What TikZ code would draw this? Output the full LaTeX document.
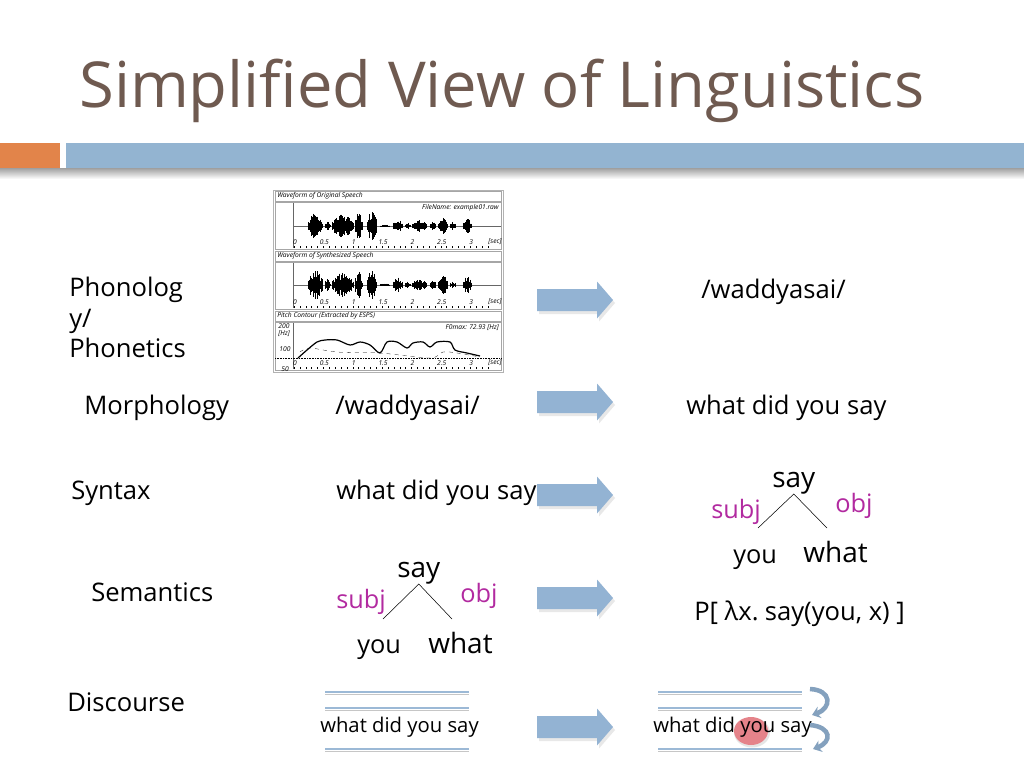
\documentclass[tikz,border=0pt]{standalone}
\usepackage{fontspec}
\setmainfont{Open Sans}
\usetikzlibrary{arrows.meta}
\definecolor{titlebrown}{HTML}{6F5A50}
\definecolor{barblue}{HTML}{93B4D1}
\definecolor{barorange}{HTML}{E2844A}
\definecolor{arrowblue}{HTML}{93B3D3}
\definecolor{lineblue}{HTML}{9CB9D6}
\definecolor{relpink}{HTML}{B22AA0}
\definecolor{youred}{HTML}{E5838A}
\begin{document}
\begin{tikzpicture}[x=0.75pt,y=-0.75pt,
  lbl/.style={anchor=base west,inner sep=0pt,font=\fontsize{19.2}{22}\selectfont},
  big/.style={anchor=base west,inner sep=0pt,font=\fontsize{21}{24}\selectfont},
  rel/.style={anchor=base west,inner sep=0pt,text=relpink,font=\fontsize{19}{22}\selectfont},
  small/.style={anchor=base west,inner sep=0pt,font=\fontsize{15.2}{17}\selectfont},
  tiny/.style={inner sep=0pt,font=\fontsize{5}{6}\selectfont\itshape},
  curlarrow/.style={arrowblue!90!black,line width=3.4pt,-{Stealth[length=6pt,width=9pt]}}]
\useasboundingbox (0,0) rectangle (1024,768);
\fill[white] (0,0) rectangle (1024,768);
% title and bar
\node[anchor=base west,inner sep=0pt,text=titlebrown,font=\fontsize{47.5}{50}\selectfont] (title) at (79,107) {Simplified View of Linguistics};
\shade[top color=gray!75,bottom color=white] (0,168) rectangle (1024,179);
\fill[barorange] (0,143) rectangle (60,168);
\fill[barblue] (66,143) rectangle (1024,168);
% speech figure
\draw[gray!60,fill=white] (273,190) rectangle (503,372);
\foreach \ya/\yb in {191/201,251/261,311/321}
  \draw[gray!70] (275,\ya) rectangle (501,\yb);
\foreach \ya/\yb in {202/249,262/309,322/370}
  \draw[gray!70] (275,\ya) rectangle (501,\yb);
\node[tiny,anchor=west] (wav1) at (277,196) {Waveform of Original Speech};
\node[tiny,anchor=west] (wav2) at (277,256) {Waveform of Synthesized Speech};
\node[tiny,anchor=west] (pitch) at (277,316) {Pitch Contour (Extracted by ESPS)};
\node[tiny,anchor=north east] (fname) at (499,204) {FileName: example01.raw};
\node[tiny,anchor=north east] (fmax) at (499,324) {F0max: 72.93 [Hz]};
\foreach \ya/\yb/\ym in {203/248/226,263/308/285,323/369/358} {
  \draw[gray!80!black,very thin] (293,\ya) -- (293,\yb);
  \foreach \k in {0,...,33}
    \draw[very thin] ({294+5.87*\k},\yb) -- ({294+5.87*\k},{\yb-2});
  \foreach \t in {0,0.5,1,1.5,2,2.5,3}
    \node[tiny] at ({295+58.7*\t},{\yb-6}) {\t};
  \node[tiny] at (495,{\yb-6}) {[sec]};
}
\draw[gray!80!black,very thin] (293,226) -- (501,226);
\draw[gray!80!black,very thin] (293,285) -- (501,285);
\draw[densely dotted,very thin] (275,358) -- (501,358);
\node[tiny,align=center] (hz) at (284,330) {200\\[-1pt][Hz]};
\node[tiny] (hzb) at (285,349) {100};
\node[tiny] (hzc) at (285,369) {50};
% waveforms
\pgfmathsetseed{7}
\foreach \xa/\xb/\am in {308/323/14,325/330/5,332/353/12,355/362/13,367/377/16,380/390/1.5,393/403/7,405/410/4,412/427/6,430/436/5,438/448/9,450/456/4,463/472/8} {
  \pgfmathtruncatemacro\nn{(\xb-\xa)/0.7}
  \foreach \k in {0,...,\nn} {
    \pgfmathsetmacro\hh{\am*(0.4+0.6*rnd)*(0.3+0.7*sin(180*\k/\nn))}
    \draw[line width=0.6pt] ({\xa+0.7*\k},226-\hh) -- ({\xa+0.7*\k},226+\hh);
  }
}
\foreach \xa/\xb/\am in {308/323/15,325/330/6,332/353/13,355/362/14,367/377/16,380/390/1.5,393/403/8,405/410/4,412/427/6,430/436/5,438/448/10,450/456/4,463/472/9} {
  \pgfmathtruncatemacro\nn{(\xb-\xa)/0.7}
  \foreach \k in {0,...,\nn} {
    \pgfmathsetmacro\hh{\am*(0.4+0.6*rnd)*(0.3+0.7*sin(180*\k/\nn))}
    \draw[line width=0.6pt] ({\xa+0.7*\k},285-\hh) -- ({\xa+0.7*\k},285+\hh);
  }
}
\draw[dashed,very thin] plot[smooth] coordinates {(300,352) (310,348) (337,352) (380,353) (430,358) (443,352) (457,353) (480,357)};
\draw[line width=0.9pt] plot[smooth] coordinates {(298,358) (307,350) (317,342) (325,340) (337,340) (350,345) (360,342) (370,345) (380,353) (387,342) (397,342) (407,348) (413,343) (423,342) (430,347) (437,342) (450,342) (455,350) (467,353) (480,356)};
% left labels
\node[lbl] (phon1) at (69,296) {Phonolog};
\node[lbl] (phon2) at (69,327) {y/};
\node[lbl] (phon3) at (69,357) {Phonetics};
\node[lbl] (morph) at (84,414) {Morphology};
\node[lbl] (syn) at (71,499) {Syntax};
\node[lbl] (sem) at (91,601) {Semantics};
\node[lbl] (disc) at (67,711) {Discourse};
% middle column
\node[lbl] (mwad) at (335,414) {/waddyasai/};
\node[lbl] (msay) at (336,499) {what did you say};
\node[big] (saym) at (397,577) {say};
\node[rel] (subjm) at (336,608) {subj};
\node[rel] (objm) at (460,602) {obj};
\node[lbl,font=\fontsize{19}{22}\selectfont] (youm) at (357,653) {you};
\node[big] (whatm) at (428,653) {what};
\coordinate (lm) at (383,619);
\coordinate (rm) at (452,619);
\draw (lm) -- (saym.south) -- (rm);
% right column
\node[lbl] (rwad) at (701,298) {/waddyasai/};
\node[lbl] (rsay) at (686,414) {what did you say};
\node[big] (sayr) at (772,487) {say};
\node[rel] (subjr) at (711,518) {subj};
\node[rel] (objr) at (835,512) {obj};
\node[lbl,font=\fontsize{19}{22}\selectfont] (your) at (733,563) {you};
\node[big] (whatr) at (803,562) {what};
\coordinate (lr) at (758,528);
\coordinate (rr) at (827,528);
\draw (lr) -- (sayr.south) -- (rr);
\node[lbl] (lam) at (694,620) {P[ λx.\hspace{-2pt} say(you, x) ]};
% block arrows
\foreach \ay in {300,402,495,598,727} {
  \fill[gray!50,opacity=0.35] (539,\ay-8) -- (599,\ay-8) -- (599,\ay-15.5) -- (615,\ay+3) -- (599,\ay+21.5) -- (599,\ay+14) -- (539,\ay+14) -- cycle;
  \fill[arrowblue] (537,\ay-11) -- (597,\ay-11) -- (597,\ay-18.5) -- (613,\ay) -- (597,\ay+18.5) -- (597,\ay+11) -- (537,\ay+11) -- cycle;
}
% discourse
\foreach \xa/\xb in {325/469,658/802}
  \foreach \ly in {692,708,749} {
    \draw[gray!45,line width=1.2pt] (\xa,\ly+2.5) -- (\xb,\ly+2.5);
    \draw[lineblue,line width=1.3pt] (\xa,\ly) -- (\xb,\ly);
  }
\node[small] (dleft) at (320,732) {what did you say};
\fill[gray!40,opacity=0.5] (752,732.5) ellipse (18 and 15);
\fill[youred] (751,731) ellipse (17 and 14);
\node[small] (dright) at (653,732) {what did you say};
\coordinate (c1a) at (810,689);
\coordinate (c1b) at (812,715);
\coordinate (c2a) at (810,725);
\coordinate (c2b) at (813,749);
\draw[curlarrow] (c1a) .. controls (832,690) and (832,708) .. (c1b);
\draw[curlarrow] (c2a) .. controls (832,727) and (832,742) .. (c2b);
\end{tikzpicture}
\end{document}
